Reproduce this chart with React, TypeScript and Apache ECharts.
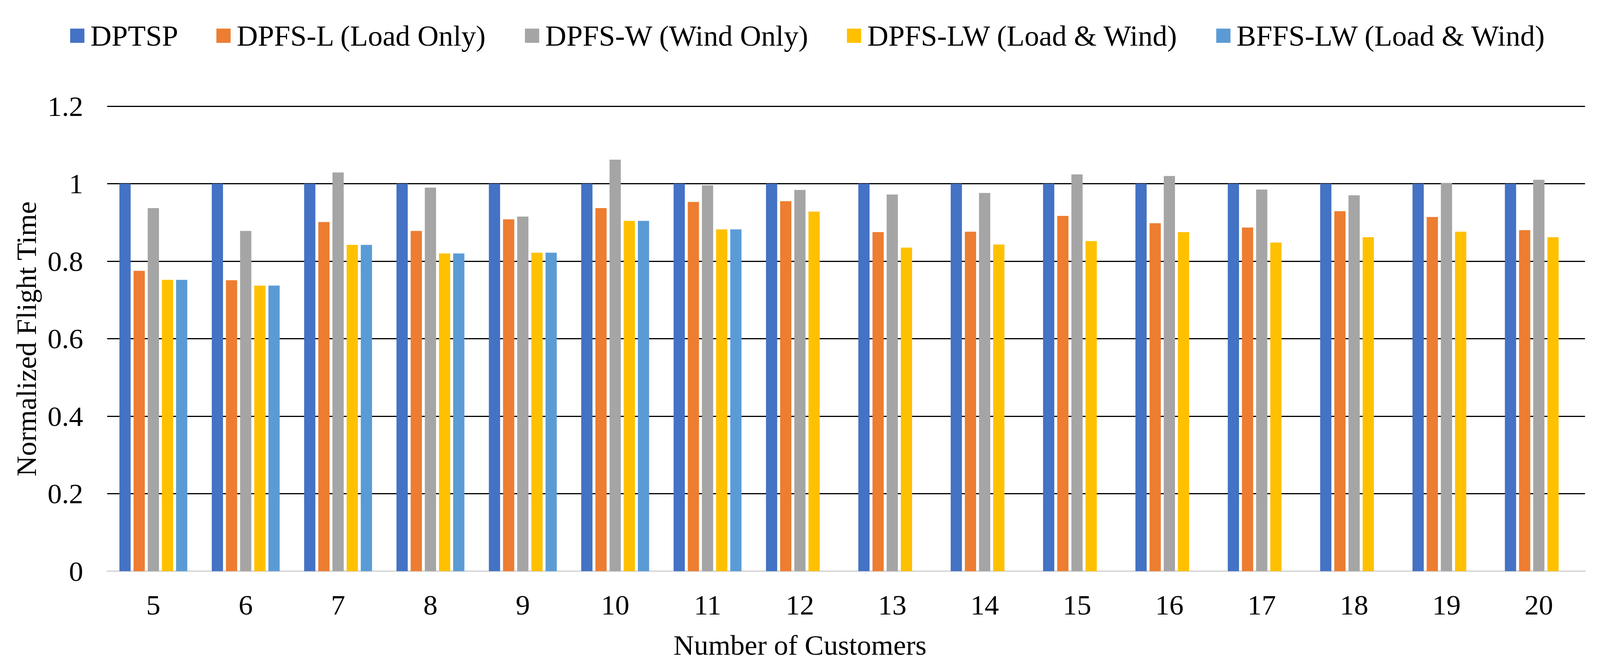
import React, { useEffect, useRef } from "react";
import * as echarts from "echarts";

const categories = ["5", "6", "7", "8", "9", "10", "11", "12", "13", "14", "15", "16", "17", "18", "19", "20"];
const seriesNames = [
  "DPTSP",
  "DPFS-L (Load Only)",
  "DPFS-W (Wind Only)",
  "DPFS-LW (Load & Wind)",
  "BFFS-LW (Load & Wind)",
];
const dptsp = [1, 1, 1, 1, 1, 1, 1, 1, 1, 1, 1, 1, 1, 1, 1, 1];
const dpfsL = [0.775, 0.751, 0.901, 0.878, 0.908, 0.937, 0.953, 0.955, 0.875, 0.876, 0.917, 0.898, 0.887, 0.929, 0.914, 0.88];
const dpfsW = [0.937, 0.878, 1.029, 0.99, 0.915, 1.062, 0.996, 0.984, 0.972, 0.976, 1.024, 1.02, 0.985, 0.97, 1.002, 1.01];
const dpfsLW = [0.752, 0.737, 0.842, 0.82, 0.822, 0.904, 0.882, 0.928, 0.835, 0.843, 0.852, 0.875, 0.848, 0.862, 0.876, 0.862];
const bffsLW = [0.752, 0.737, 0.842, 0.82, 0.822, 0.904, 0.882, null, null, null, null, null, null, null, null, null];
const colors = ["#4472C4", "#ED7D31", "#A5A5A5", "#FFC000", "#5B9BD5"];
const xTitle = "Number of Customers";
const yTitle = "Normalized Flight Time";

const FONT = "'Liberation Serif', 'Times New Roman', serif";
const REF_W = 4270;
const REF_H = 1711;

export default function App() {
  const ref = useRef<HTMLDivElement>(null);
  const W = (typeof window !== "undefined" && window.innerWidth) || REF_W;
  const H = (typeof window !== "undefined" && window.innerHeight) || REF_H;
  const vw = Math.min(W, REF_W);
  const vh = Math.min(H, REF_H);

  useEffect(() => {
    if (!ref.current) return;
    const sx = vw / REF_W;
    const sy = vh / REF_H;
    const s = Math.min(sx, sy);
    const fs = 76 * s;
    const lfs = 78 * s;
    const chart = echarts.init(ref.current, null, { renderer: "svg" });
    const allData = [dptsp, dpfsL, dpfsW, dpfsLW, bffsLW];
    chart.setOption({
      animation: false,
      backgroundColor: "#ffffff",
      color: colors,
      textStyle: { fontFamily: FONT },
      legend: {
        top: 49 * sy,
        left: 182 * sx,
        itemWidth: 38 * s,
        itemHeight: 38 * s,
        itemGap: 102 * sx,
        icon: "rect",
        textStyle: { fontFamily: FONT, fontSize: lfs, color: "#000", padding: [0, 0, 0, 11 * s] },
        data: seriesNames,
      },
      grid: { left: 286 * sx, right: 40 * sx, top: 272 * sy, bottom: 248 * sy, containLabel: false },
      xAxis: {
        type: "category",
        data: categories,
        axisLine: { show: true, lineStyle: { color: "#D9D9D9", width: 4 * s } },
        axisTick: { show: false },
        axisLabel: { fontFamily: FONT, fontSize: fs, color: "#000", margin: 50 * sy },
        splitLine: { show: false },
      },
      yAxis: {
        type: "value",
        min: 0,
        max: 1.2,
        interval: 0.2,
        axisLine: { show: false },
        axisTick: { show: false },
        axisLabel: { fontFamily: FONT, fontSize: fs, color: "#000", margin: 64 * sx },
        splitLine: { show: true, showMinLine: false, lineStyle: { color: "#000", width: 3 * s } },
      },
      graphic: [
        {
          type: "text",
          x: 2135 * sx,
          y: 1652 * sy,
          style: { text: xTitle, font: `${fs}px ${FONT}`, fill: "#000", align: "center", verticalAlign: "middle" },
        },
        {
          type: "text",
          x: 70 * sx,
          y: 868 * sy,
          rotation: Math.PI / 2,
          style: { text: yTitle, font: `${fs}px ${FONT}`, fill: "#000", align: "center", verticalAlign: "middle" },
        },
      ],
      series: seriesNames.map((name, i) => ({
        name,
        type: "bar",
        data: allData[i],
        barWidth: 30 * sx,
        barGap: "26%",
        itemStyle: { color: colors[i] },
      })),
    });
    return () => chart.dispose();
  }, [vw, vh]);

  return <div ref={ref} style={{ position: "absolute", left: 0, top: 0, width: vw, height: vh }} />;
}
